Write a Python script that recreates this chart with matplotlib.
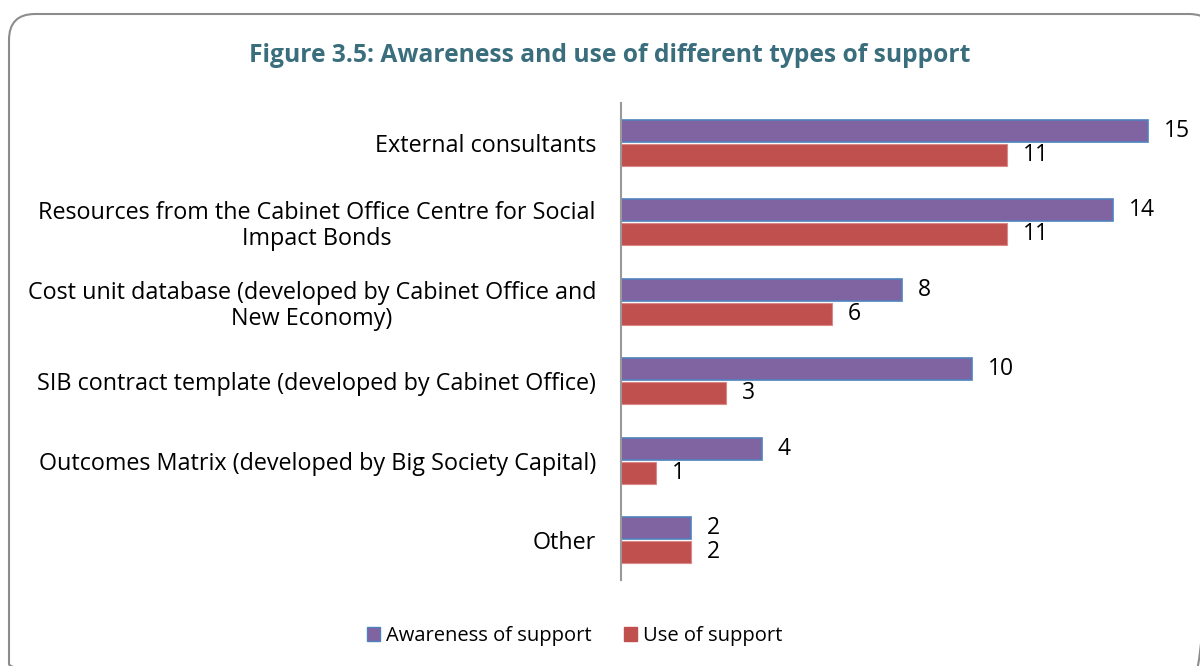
import matplotlib.pyplot as plt
from matplotlib.patches import FancyBboxPatch, Patch
import numpy as np

categories = [
    "External consultants",
    "Resources from the Cabinet Office Centre for Social\nImpact Bonds",
    "Cost unit database (developed by Cabinet Office and\nNew Economy)",
    "SIB contract template (developed by Cabinet Office)",
    "Outcomes Matrix (developed by Big Society Capital)",
    "Other",
]
awareness = [15, 14, 8, 10, 4, 2]
use = [11, 11, 6, 3, 1, 2]
series_names = ["Awareness of support", "Use of support"]
title = "Figure 3.5: Awareness and use of different types of support"

plt.rcParams['font.family'] = ['Open Sans', 'DejaVu Sans']
FS_LABEL = 16.8
FS_VALUE = 16.5
FS_LEGEND = 14.5

W, H = 1200, 666
fig = plt.figure(figsize=(W / 100, H / 100), dpi=100)

# pixel-space background axes for the rounded frame
bg = fig.add_axes([0, 0, 1, 1])
bg.set_xlim(0, W)
bg.set_ylim(H, 0)
bg.axis("off")
frame = FancyBboxPatch((9, 14), 1215 - 9, 690 - 14,
                       boxstyle="round,pad=0,rounding_size=26",
                       fill=False, edgecolor="#8c8c8c", linewidth=1.5)
bg.add_patch(frame)

fig.text(610 / W, 1 - 55 / H, title, ha="center", va="center",
         fontsize=17.7, fontweight="bold", color="#3b6e7d")

ax_left, ax_top, ax_bottom = 621, 103, 580
xmax = 16
ax_right = ax_left + 35.13 * xmax
ax = fig.add_axes([ax_left / W, 1 - ax_bottom / H,
                   (ax_right - ax_left) / W, (ax_bottom - ax_top) / H])

n = len(categories)
y = np.arange(n)
bh = 0.28
gap = 0.02
purple, red = "#8064A2", "#C0504D"
ax.barh(y - bh / 2 - gap / 2, awareness, height=bh, color=purple,
        edgecolor="#4F81BD", linewidth=1.2, label=series_names[0])
ax.barh(y + bh / 2 + gap / 2, use, height=bh, color=red,
        edgecolor="#d98a88", linewidth=0.8, label=series_names[1])

for i in range(n):
    ax.text(awareness[i] + 0.45, y[i] - bh / 2 - gap / 2, str(awareness[i]),
            va="center", ha="left", fontsize=FS_VALUE, clip_on=False)
    ax.text(use[i] + 0.45, y[i] + bh / 2 + gap / 2, str(use[i]),
            va="center", ha="left", fontsize=FS_VALUE, clip_on=False)

ax.set_ylim(n - 0.5, -0.5)
ax.set_xlim(0, xmax)
ax.set_yticks(y)
ax.set_yticklabels(categories, fontsize=FS_LABEL, ha="right", multialignment="center",
                   linespacing=1.1)
ax.tick_params(axis="y", length=0, pad=18)
ax.set_xticks([])
for s in ["top", "right", "bottom"]:
    ax.spines[s].set_visible(False)
ax.spines["left"].set_color("#999999")
ax.spines["left"].set_linewidth(1.5)

handles = [Patch(facecolor=purple, edgecolor="#4F81BD"),
           Patch(facecolor=red, edgecolor=red)]
fig.legend(handles, series_names, loc="center", bbox_to_anchor=(575 / W, 1 - 636 / H),
           ncol=2, frameon=False, fontsize=FS_LEGEND, handlelength=0.65, handleheight=0.65,
           handletextpad=0.3, columnspacing=1.6)

fig.savefig("out.png", dpi=100)
